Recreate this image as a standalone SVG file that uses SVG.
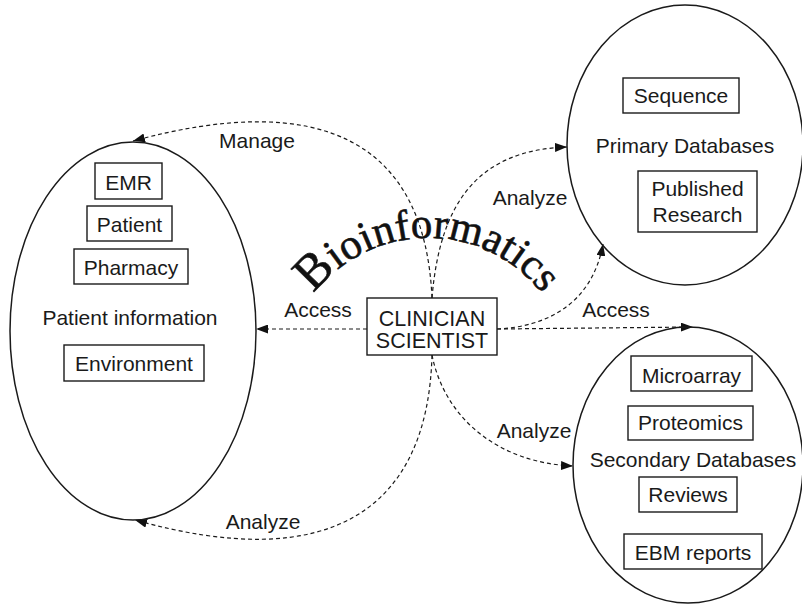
<svg xmlns="http://www.w3.org/2000/svg" width="802" height="605" viewBox="0 0 802 605">
<style>
.bg{fill:#fff}
.oval{fill:none;stroke:#1a1a1a;stroke-width:1.5}
.box{fill:#fff;stroke:#1a1a1a;stroke-width:1.4}
.t{font-family:"Liberation Sans",Arial,Helvetica,sans-serif;font-size:21px;fill:#1a1a1a;text-anchor:middle}
.big{font-size:21.5px}
.conn{fill:none;stroke:#1a1a1a;stroke-width:1.2;stroke-dasharray:4 3}
.arc{font-family:"Liberation Serif","Times New Roman",serif;font-size:43px;fill:#111;stroke:#111;stroke-width:0.6}
</style>
<defs>
<marker id="arr" viewBox="0 0 12 9" refX="12" refY="4.5" markerWidth="12" markerHeight="9" markerUnits="userSpaceOnUse" orient="auto">
<path d="M0,0 L12,4.5 L0,9 z" fill="#111"/>
</marker>
<path id="arcpath" d="M296.6,321.7 A145,145 0 0 1 559.4,321.7" fill="none"/>
</defs>
<rect class="bg" x="0" y="0" width="802" height="605"/>

<g id="connectors">
<path class="conn" marker-end="url(#arr)" d="M432,298 C425,140 320,90 133,141"/>
<path class="conn" marker-end="url(#arr)" d="M432,298 C440,200 480,150 567,147"/>
<path class="conn" marker-end="url(#arr)" d="M367,329 L256,329"/>
<path class="conn" marker-end="url(#arr)" d="M497,329 L693,327"/>
<path class="conn" marker-end="url(#arr)" d="M497,329 C545,327 592,305 603,244"/>
<path class="conn" marker-end="url(#arr)" d="M432,355 C428,510 330,575 135,520"/>
<path class="conn" marker-end="url(#arr)" d="M432,355 C445,420 500,463 573,466"/>
<text class="t" x="257" y="148">Manage</text>
<text class="t" x="530" y="205">Analyze</text>
<text class="t" x="318" y="317">Access</text>
<text class="t" x="616" y="317">Access</text>
<text class="t" x="534" y="438">Analyze</text>
<text class="t" x="263" y="529">Analyze</text>
</g>

<g id="title">
<text class="arc"><textPath href="#arcpath" startOffset="50%" text-anchor="middle"><tspan font-size="50">B</tspan>ioinformatics</textPath></text>
</g>

<g id="patient-information">
<ellipse class="oval" cx="133" cy="331" rx="123" ry="189"/>
<rect class="box" x="95" y="163" width="67" height="36"/>
<text class="t" x="128.5" y="190">EMR</text>
<rect class="box" x="87" y="206" width="85" height="35"/>
<text class="t" x="129.5" y="232">Patient</text>
<rect class="box" x="74" y="249" width="114" height="35"/>
<text class="t" x="131" y="275">Pharmacy</text>
<text class="t" x="130" y="325">Patient information</text>
<rect class="box" x="64" y="345" width="140" height="36"/>
<text class="t" x="134" y="371">Environment</text>
</g>

<g id="clinician-scientist">
<rect class="box" x="367" y="298" width="130" height="57"/>
<text class="t big" x="432" y="326">CLINICIAN</text>
<text class="t big" x="432" y="348">SCIENTIST</text>
</g>

<g id="primary-databases">
<ellipse class="oval" cx="685" cy="145" rx="118" ry="140"/>
<rect class="box" x="623" y="78" width="116" height="35"/>
<text class="t" x="681" y="103">Sequence</text>
<text class="t" x="685" y="153">Primary Databases</text>
<rect class="box" x="638" y="171" width="119" height="61"/>
<text class="t" x="697.5" y="196">Published</text>
<text class="t" x="697.5" y="222">Research</text>
</g>

<g id="secondary-databases">
<ellipse class="oval" cx="688" cy="465" rx="115" ry="138"/>
<rect class="box" x="631" y="356" width="121" height="35"/>
<text class="t" x="691.5" y="383">Microarray</text>
<rect class="box" x="628" y="406" width="125" height="34"/>
<text class="t" x="690.5" y="430">Proteomics</text>
<text class="t" x="693" y="467">Secondary Databases</text>
<rect class="box" x="639" y="477" width="98" height="35"/>
<text class="t" x="688" y="502">Reviews</text>
<rect class="box" x="624" y="534" width="138" height="35"/>
<text class="t" x="693" y="560">EBM reports</text>
</g>
</svg>
